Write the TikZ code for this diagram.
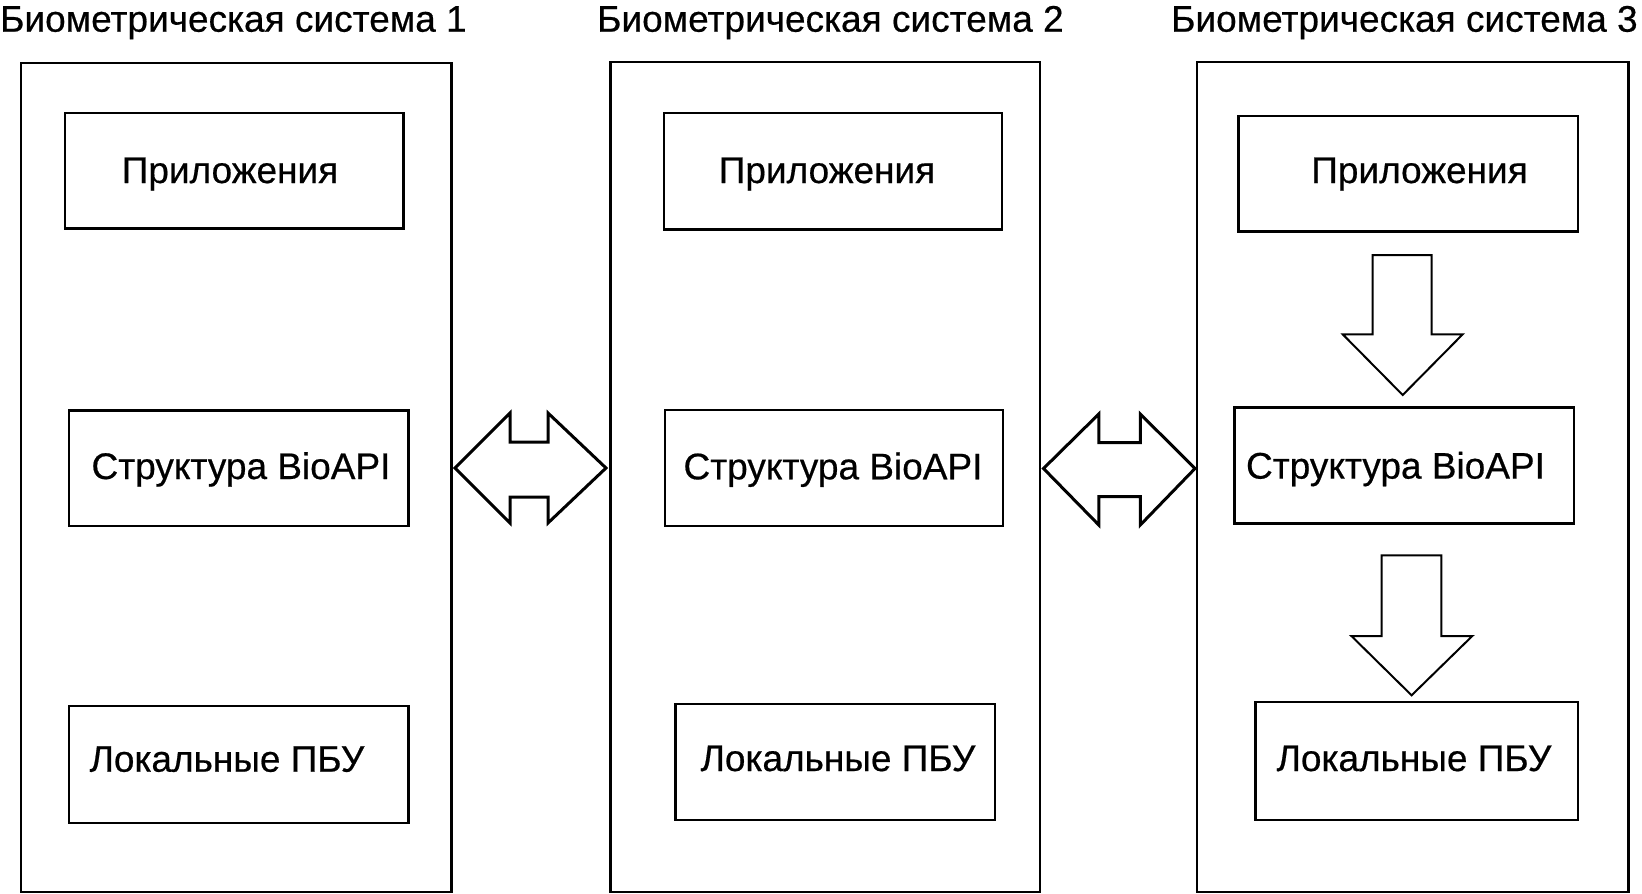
\documentclass[tikz,border=0pt]{standalone}
\usepackage{fontspec}
\setmainfont{Liberation Sans}
\newfontfamily\diagfont[FakeBold=0.5]{Liberation Sans}
\begin{document}
\begin{tikzpicture}[x=1pt,y=-1pt,
  box/.style={draw=black, line width=2.4pt, fill=none, inner sep=0pt},
  lbl/.style={font=\diagfont\fontsize{37}{44}\selectfont, inner sep=0pt, anchor=base},
  ttl/.style={font=\diagfont\fontsize{37}{44}\selectfont, inner sep=0pt, anchor=base west},
  dblarrow/.style={draw=black, line width=3pt, line join=miter},
  downarrow/.style={draw=black, line width=2pt, line join=miter}]
\useasboundingbox[fill=white] (0,0) rectangle (1642,894);
% titles
\node[ttl] (t1) at (0,31.7) {Биометрическая система 1};
\node[ttl] (t2) at (597,31.7) {Биометрическая система 2};
\node[ttl] (t3) at (1171,31.7) {Биометрическая система 3};
% outer boxes
\node[box, minimum width=430.4pt, minimum height=829.2pt] (o1) at (236.1,477.4) {};
\node[box, minimum width=429.5pt, minimum height=830.2pt] (o2) at (825.25,476.9) {};
\node[box, minimum width=431.5pt, minimum height=830.2pt] (o3) at (1412.75,476.9) {};
% system 1
\node[box, minimum width=338.3pt, minimum height=115.6pt] (p1) at (234.15,170.5) {};
\node[lbl] at (230,183) {Приложения};
\node[box, minimum width=339.3pt, minimum height=115.2pt] (s1) at (238.75,468.1) {};
\node[lbl] at (241,479) {Структура BioAPI};
\node[box, minimum width=339.3pt, minimum height=117.3pt] (l1) at (238.75,764.4) {};
\node[lbl] at (227,771.7) {Локальные ПБУ};
% system 2
\node[box, minimum width=338.3pt, minimum height=116.3pt] (p2) at (833.05,171.15) {};
\node[lbl] at (827,183) {Приложения};
\node[box, minimum width=338.2pt, minimum height=115.7pt] (s2) at (834.1,468.1) {};
\node[lbl] at (833,479.3) {Структура BioAPI};
\node[box, minimum width=319.4pt, minimum height=116.3pt] (l2) at (835.1,761.85) {};
\node[lbl] at (838,771) {Локальные ПБУ};
% system 3
\node[box, minimum width=339.3pt, minimum height=115.2pt] (p3) at (1408.05,173.8) {};
\node[lbl] at (1419.5,183) {Приложения};
\node[box, minimum width=339.4pt, minimum height=116.2pt] (s3) at (1404.3,465.5) {};
\node[lbl] at (1395.5,478.6) {Структура BioAPI};
\node[box, minimum width=322.1pt, minimum height=118.1pt] (l3) at (1416.65,760.95) {};
\node[lbl] at (1414,771) {Локальные ПБУ};
% double arrows between systems
\draw[dblarrow] (455,468) -- (510,413) -- (510,442) -- (548,442) -- (548,413) -- (606,468)
  -- (548,523) -- (548,497) -- (510,497) -- (510,523) -- cycle;
\draw[dblarrow] (1043.5,468.5) -- (1098.8,414) -- (1098.8,442.7) -- (1140.3,442.7) -- (1140.3,414) -- (1195,468.5)
  -- (1140.3,525) -- (1140.3,496.7) -- (1098.8,496.7) -- (1098.8,525) -- cycle;
% down arrows in system 3
\draw[downarrow] (1372.7,255) -- (1431.7,255) -- (1431.7,334.3) -- (1462.7,334.3) -- (1402.7,395)
  -- (1342.7,334.3) -- (1372.7,334.3) -- cycle;
\draw[downarrow] (1381.7,555.3) -- (1441.4,555.3) -- (1441.4,636) -- (1472.3,636) -- (1411.6,695.3)
  -- (1351.4,636) -- (1381.7,636) -- cycle;
\end{tikzpicture}
\end{document}
